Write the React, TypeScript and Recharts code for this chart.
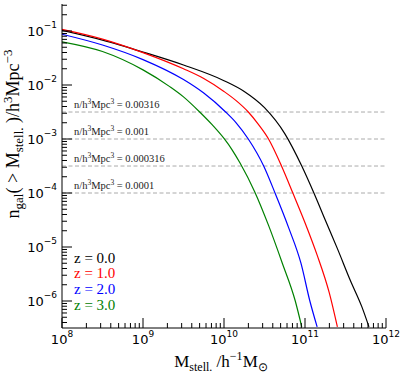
import React from 'react';
import { LineChart, Line, XAxis, YAxis, ReferenceLine } from 'recharts';

// log10(M_stell / h^-1 Msun) and log10(n_gal / h^3 Mpc^-3)
const z0LogM = [8.0, 8.5, 9.0, 9.5, 10.0, 10.25, 10.5, 10.75, 10.96, 11.11, 11.25, 11.4, 11.56, 11.7, 11.79];
const z0LogN = [-0.99, -1.17, -1.39, -1.63, -1.92, -2.12, -2.42, -2.9, -3.5, -4.0, -4.5, -5.03, -5.62, -6.1, -6.48];

const z1LogM = [8.0, 8.5, 9.0, 9.5, 9.75, 10.0, 10.15, 10.3, 10.42, 10.55, 10.71, 10.85, 11.0, 11.15, 11.3, 11.4];
const z1LogN = [-0.97, -1.15, -1.4, -1.7, -1.88, -2.12, -2.29, -2.5, -2.72, -3.0, -3.5, -4.0, -4.55, -5.15, -5.85, -6.48];

const z2LogM = [8.0, 8.5, 9.0, 9.5, 9.75, 10.02, 10.15, 10.3, 10.49, 10.63, 10.8, 10.95, 11.06, 11.15];
const z2LogN = [-1.06, -1.26, -1.53, -1.9, -2.15, -2.5, -2.7, -3.0, -3.5, -4.0, -4.65, -5.3, -6.0, -6.48];

const z3LogM = [8.0, 8.5, 9.0, 9.33, 9.5, 9.7, 9.85, 10.0, 10.1, 10.2, 10.38, 10.55, 10.72, 10.88, 10.96];
const z3LogN = [-1.2, -1.38, -1.72, -2.03, -2.22, -2.5, -2.73, -2.99, -3.2, -3.45, -3.98, -4.6, -5.3, -6.0, -6.48];

const seriesNames = ['z = 0.0', 'z = 1.0', 'z = 2.0', 'z = 3.0'];
const seriesColors = ['#000000', '#ff0000', '#0000ff', '#008000'];

const densityLevels = [0.00316, 0.001, 0.000316, 0.0001];
const densityLabels = ['0.00316', '0.001', '0.000316', '0.0001'];

const xMajorExps = [8, 9, 10, 11, 12];
const yMajorExps = [-7, -6, -5, -4, -3, -2, -1, 0];
const minorMults = [2, 3, 4, 5, 6, 7, 8, 9];

const X_DOMAIN: [number, number] = [8, 12];
const Y_DOMAIN: [number, number] = [-6.5, -0.5];

const zip = (xs: number[], ys: number[]) => xs.map((x, i) => ({ x, y: ys[i] }));
const seriesData = [zip(z0LogM, z0LogN), zip(z1LogM, z1LogN), zip(z2LogM, z2LogN), zip(z3LogM, z3LogN)];

const buildTicks = (exps: number[], dom: [number, number]) => {
  const t: number[] = [];
  exps.forEach((e) => {
    t.push(e);
    minorMults.forEach((m) => t.push(e + Math.log10(m)));
  });
  return t.filter((v) => v >= dom[0] - 1e-9 && v <= dom[1] + 1e-9).sort((a, b) => a - b);
};
const xTicks = buildTicks(xMajorExps, X_DOMAIN);
const yTicks = buildTicks(yMajorExps, Y_DOMAIN);

const isMajor = (v: number) => Math.abs(v - Math.round(v)) < 1e-6;
const MAJ = 10;
const MIN = 5;
const TICK_FONT = 'DejaVu Sans';
const SERIF = 'Liberation Serif';
const fmtExp = (v: number) => {
  const n = Math.round(v);
  return n < 0 ? '\u2212' + Math.abs(n) : String(n);
};

const BottomTick = (p: any) => {
  const { x, y, payload } = p;
  const major = isMajor(payload.value);
  return (
    <g>
      <line x1={x} x2={x} y1={y} y2={y - (major ? MAJ : MIN)} stroke="#000" strokeWidth={1} />
      {major && (
        <text x={x} y={y + 16} textAnchor="middle" fontFamily={TICK_FONT} fontSize={13} fill="#000">
          10<tspan dy={-7} fontSize={9}>{fmtExp(payload.value)}</tspan>
        </text>
      )}
    </g>
  );
};
const TopTick = (p: any) => {
  const { x, y, payload } = p;
  const major = isMajor(payload.value);
  return <line x1={x} x2={x} y1={y} y2={y + (major ? MAJ : MIN)} stroke="#000" strokeWidth={1} />;
};
const LeftTick = (p: any) => {
  const { x, y, payload } = p;
  const major = isMajor(payload.value);
  return (
    <g>
      <line x1={x} x2={x + (major ? MAJ : MIN)} y1={y} y2={y} stroke="#000" strokeWidth={1} />
      {major && (
        <text x={x - 5} y={y + 4.5} textAnchor="end" fontFamily={TICK_FONT} fontSize={13} fill="#000">
          10<tspan dy={-7.5} fontSize={9}>{fmtExp(payload.value)}</tspan>
        </text>
      )}
    </g>
  );
};
const RightTick = (p: any) => {
  const { x, y, payload } = p;
  const major = isMajor(payload.value);
  return <line x1={x} x2={x - (major ? MAJ : MIN)} y1={y} y2={y} stroke="#000" strokeWidth={1} />;
};

const makeRefLabel = (txt: string) => (props: any) => {
  const vb = props.viewBox || {};
  return (
    <text x={(vb.x || 0) + 12} y={(vb.y || 0) - 4} fontFamily={SERIF} fontSize={10.5} fill="#222">
      n/h<tspan dy={-4} fontSize={7.5}>3</tspan>
      <tspan dy={4}>Mpc</tspan>
      <tspan dy={-4} fontSize={7.5}>3</tspan>
      <tspan dy={4}>{' = ' + txt}</tspan>
    </text>
  );
};

export default function App() {
  return (
    <div style={{ position: 'absolute', left: 0, top: 0, width: 407, height: 376, background: '#fff' }}>
      <LineChart width={407} height={376} margin={{ top: 4, right: 21, bottom: 0, left: 0 }}>
        <XAxis
          xAxisId="b"
          type="number"
          dataKey="x"
          orientation="bottom"
          domain={X_DOMAIN}
          allowDataOverflow
          ticks={xTicks}
          interval={0}
          height={48}
          tickSize={0}
          tickMargin={0}
          tickLine={false}
          axisLine={{ stroke: '#000', strokeWidth: 1 }}
          tick={BottomTick}
        />
        <XAxis
          xAxisId="t"
          type="number"
          dataKey="x"
          orientation="top"
          domain={X_DOMAIN}
          allowDataOverflow
          ticks={xTicks}
          interval={0}
          height={0}
          tickSize={0}
          tickMargin={0}
          tickLine={false}
          axisLine={{ stroke: '#000', strokeWidth: 1 }}
          tick={TopTick}
        />
        <YAxis
          yAxisId="l"
          type="number"
          dataKey="y"
          orientation="left"
          domain={Y_DOMAIN}
          allowDataOverflow
          ticks={yTicks}
          interval={0}
          width={62}
          tickSize={0}
          tickMargin={0}
          tickLine={false}
          axisLine={{ stroke: '#000', strokeWidth: 1 }}
          tick={LeftTick}
        />
        <YAxis
          yAxisId="r"
          type="number"
          dataKey="y"
          orientation="right"
          domain={Y_DOMAIN}
          allowDataOverflow
          ticks={yTicks}
          interval={0}
          width={0}
          tickSize={0}
          tickMargin={0}
          tickLine={false}
          axisLine={{ stroke: '#000', strokeWidth: 1 }}
          tick={RightTick}
        />
        {densityLevels.map((lv, i) => (
          <ReferenceLine
            key={'ref' + i}
            xAxisId="b"
            yAxisId="l"
            y={Math.log10(lv)}
            stroke="#aaaaaa"
            strokeWidth={1}
            strokeDasharray="4 2.5"
            label={makeRefLabel(densityLabels[i])}
          />
        ))}
        {seriesData.map((d, i) => (
          <Line
            key={'s' + i}
            xAxisId="b"
            yAxisId="l"
            data={d}
            dataKey="y"
            type="monotone"
            stroke={seriesColors[i]}
            strokeWidth={1.2}
            dot={false}
            activeDot={false}
            isAnimationActive={false}
          />
        ))}
      </LineChart>
      <svg
        width={407}
        height={376}
        style={{ position: 'absolute', left: 0, top: 0, pointerEvents: 'none' }}
      >
        <text
          transform="translate(19,134) rotate(-90)"
          textAnchor="middle"
          fontFamily={SERIF}
          fontSize={18}
          fill="#000"
        >
          n<tspan dy={4} fontSize={13}>gal</tspan>
          <tspan dy={-4}>{'( > M'}</tspan>
          <tspan dy={4} fontSize={13}>stell.</tspan>
          <tspan dy={-4}>{' )/h'}</tspan>
          <tspan dy={-7} fontSize={13}>3</tspan>
          <tspan dy={7}>Mpc</tspan>
          <tspan dy={-7} fontSize={13}>{'\u22123'}</tspan>
        </text>
        <text x={221} y={367} textAnchor="middle" fontFamily={SERIF} fontSize={17} fill="#000">
          M<tspan dy={4} fontSize={12}>stell.</tspan>
          <tspan dy={-4}>{' /h'}</tspan>
          <tspan dy={-7} fontSize={12}>{'\u22121'}</tspan>
          <tspan dy={7}>M</tspan>
          <tspan dy={4} fontSize={12}>{'\u2299'}</tspan>
        </text>
        {seriesNames.map((n, i) => (
          <text key={'lg' + i} x={74} y={262.5 + 15.8 * i} fontFamily={SERIF} fontSize={15} fill={seriesColors[i]}>
            {n}
          </text>
        ))}
      </svg>
    </div>
  );
}
